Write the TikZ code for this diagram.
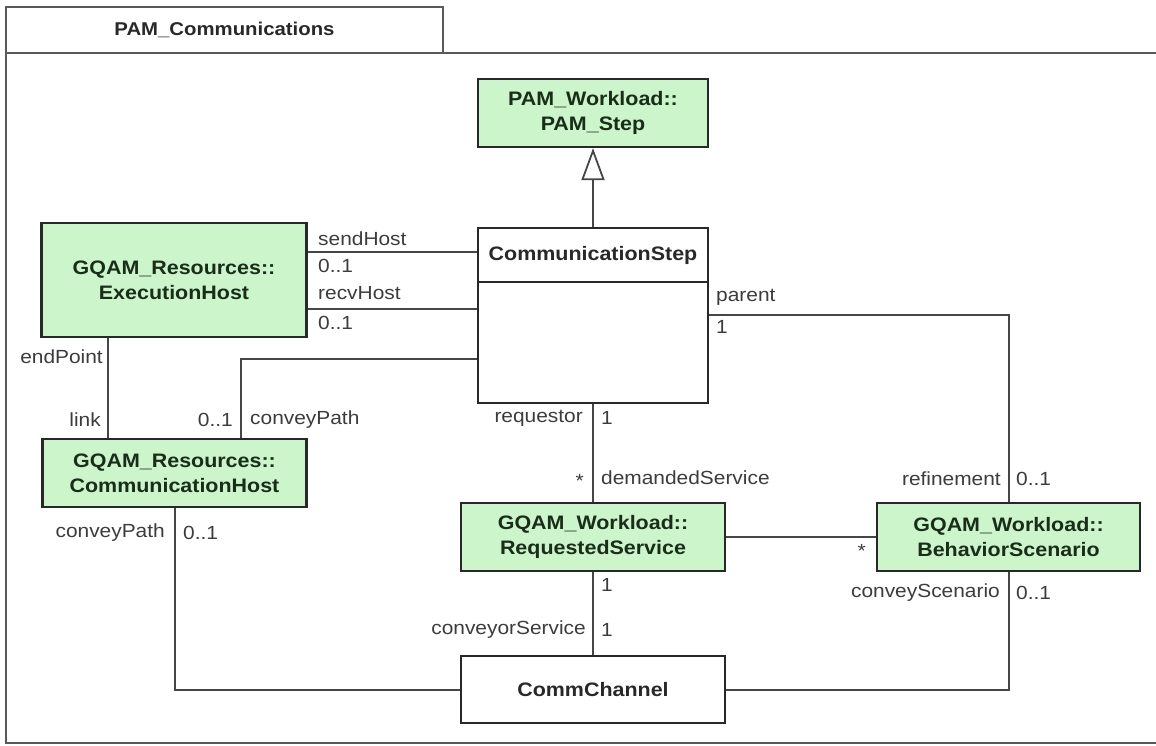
\documentclass[tikz,border=0pt]{standalone}
\usepackage{fontspec}
\setmainfont{Liberation Sans}[FakeStretch=1.1]
\usetikzlibrary{arrows.meta}
\definecolor{clsgreen}{RGB}{204,245,204}
\definecolor{boxc}{RGB}{40,40,40}
\definecolor{clstext}{RGB}{25,45,25}
\definecolor{linec}{RGB}{70,70,70}
\definecolor{framec}{RGB}{90,90,90}
\definecolor{labelc}{RGB}{60,60,60}
\tikzset{
  clsbox/.style={draw=boxc, line width=2.2pt, fill=clsgreen, minimum width=264pt, minimum height=68pt,
    font=\bfseries\fontsize{19.5}{25}\selectfont, align=center, inner sep=0pt, text=clstext},
  whitebox/.style={clsbox, fill=white, text=boxc},
  conn/.style={draw=linec, line width=2pt},
  lbl/.style={font=\fontsize{19}{22}\selectfont, inner sep=0pt, text=labelc},
  lblL/.style={lbl, anchor=west},
  lblR/.style={lbl, anchor=east}
}
\begin{document}
\begin{tikzpicture}[x=1pt,y=-1pt]
\fill[white] (0,0) rectangle (1156,746);
\useasboundingbox (0,0) rectangle (1156,746);
% frame
\draw[framec, line width=2pt] (1158,53) -- (6,53) -- (6,743) -- (1158,743);
\node[draw=framec, line width=2pt, fill=white, minimum width=437pt, minimum height=46pt, inner sep=0pt,
  font=\bfseries\fontsize{18.5}{22}\selectfont, text=boxc] (tab) at (224.5,30) {PAM\_Communications};

% classes
\node[clsbox, minimum width=230pt, minimum height=68pt] (pamstep) at (593,113) {PAM\_Workload::\\PAM\_Step};
\node[whitebox, minimum width=230pt, minimum height=54pt] (stepname) at (593,255) {CommunicationStep};
\node[whitebox, minimum width=230pt, minimum height=121pt] (stepbody) at (593,342.5) {};
\node[clsbox, minimum width=265pt, minimum height=114pt] (exec) at (174,280) {GQAM\_Resources::\\ExecutionHost};
\node[clsbox, minimum width=264pt] (commhost) at (174.5,473) {GQAM\_Resources::\\CommunicationHost};
\node[clsbox] (reqsvc) at (593,537) {GQAM\_Workload::\\RequestedService};
\node[clsbox, minimum width=263pt] (behav) at (1008.5,537) {GQAM\_Workload::\\BehaviorScenario};
\node[whitebox, minimum height=67pt] (chan) at (593,689.5) {CommChannel};

% connectors
\draw[conn, -{Triangle[open, length=32pt, width=23pt, line width=1.8pt]}] (stepname.north) -- (pamstep.south);
\draw[conn] (exec.east |- 0,252) -- (stepname.west |- 0,252);
\draw[conn] (exec.east |- 0,309) -- (stepbody.west |- 0,309);
\draw[conn] (stepbody.west |- 0,359) -| (241,0 |- commhost.north);
\draw[conn] (exec.south -| 108,0) -- (commhost.north -| 108,0);
\draw[conn] (stepbody.east |- 0,315) -| (behav.north);
\draw[conn] (stepbody.south) -- (reqsvc.north);
\draw[conn] (reqsvc.east) -- (behav.west);
\draw[conn] (reqsvc.south) -- (chan.north);
\draw[conn] (commhost.south -| 175,0) |- (chan.west);
\draw[conn] (behav.south) |- (chan.east);

% labels
\node[lblL] (l1) at (318,239) {sendHost};
\node[lblL] (l2) at (318,266) {0..1};
\node[lblL] (l3) at (318,293) {recvHost};
\node[lblL] (l4) at (318,323) {0..1};
\node[lblR] (l5) at (103,357) {endPoint};
\node[lblR] (l6) at (101,420) {link};
\node[lblR] (l7) at (233,420) {0..1};
\node[lblL] (l8) at (250,420) {conveyPath};
\node[lblL] (l9) at (716,297) {parent};
\node[lblL] (l10) at (716,327) {1};
\node[lblR] (l11) at (583,418) {requestor};
\node[lblL] (l12) at (601,418) {1};
\node[lblR] (l13) at (584,481) {*};
\node[lblL] (l14) at (601,478) {demandedService};
\node[lblR] (l15) at (1001,479) {refinement};
\node[lblL] (l16) at (1016,479) {0..1};
\node[lblR] (l17) at (866,551) {*};
\node[lblL] (l18) at (601,585) {1};
\node[lblR] (l19) at (586,630) {conveyorService};
\node[lblL] (l20) at (601,630) {1};
\node[lblR] (l21) at (165,533) {conveyPath};
\node[lblL] (l22) at (183,533) {0..1};
\node[lblR] (l23) at (1000,593) {conveyScenario};
\node[lblL] (l24) at (1016,593) {0..1};
\end{tikzpicture}
\end{document}
